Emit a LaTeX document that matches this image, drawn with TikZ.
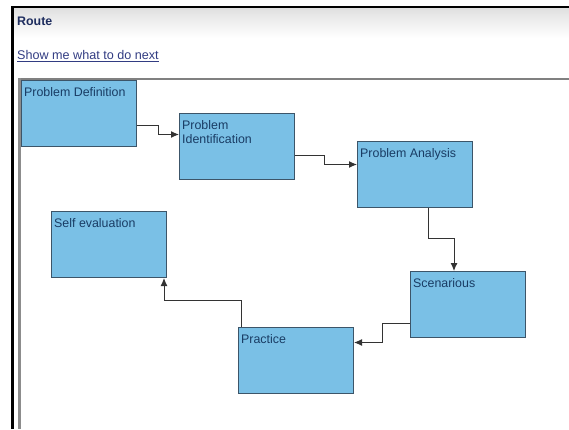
\documentclass[tikz,border=0pt]{standalone}
\usepackage{fontspec}
\setmainfont{Liberation Sans}
\usetikzlibrary{arrows.meta}
\definecolor{boxfill}{RGB}{122,192,230}
\definecolor{boxline}{RGB}{60,85,105}
\definecolor{boxtext}{RGB}{25,60,100}
\definecolor{linkblue}{RGB}{50,60,130}
\definecolor{headblue}{RGB}{30,45,95}
\tikzset{
  stepbox/.style={draw=boxline, line width=1pt, fill=boxfill, minimum width=115pt, minimum height=66pt, anchor=north west, inner sep=0pt},
  boxlabel/.style={anchor=north west, inner sep=0pt, text=boxtext, font=\fontsize{12.4}{14}\selectfont, align=left},
  conn/.style={draw=black!80, line width=1pt, -{Latex[length=8pt,width=7pt]}}
}
\begin{document}
\begin{tikzpicture}[x=1pt,y=-1pt]
\useasboundingbox (0,0) rectangle (569,429);
% header
\shade[top color=black!12, bottom color=white] (13,8) rectangle (569,38);
\draw[black, line width=2.5pt] (12.5,429) -- (12.5,7) -- (569,7);
\node[anchor=west, inner sep=0pt, text=headblue, font=\bfseries\fontsize{12.4}{14}\selectfont] (route) at (17,21) {Route};
\node[anchor=west, inner sep=0pt, text=linkblue, font=\fontsize{12.6}{14}\selectfont] (link) at (17,56) {\underline{Show me what to do next}};
% frame
\draw[black!50, line width=2pt] (18,79) -- (569,79);
\draw[black!45, line width=2.5pt] (19.5,78) -- (19.5,429);
% boxes
\node[stepbox] (pd) at (21,80) {};
\node[stepbox] (pi) at (179,113) {};
\node[stepbox] (pa) at (357,141) {};
\node[stepbox] (sc) at (410,271) {};
\node[stepbox] (pr) at (238,327) {};
\node[stepbox] (se) at (51,211) {};
% labels
\node[boxlabel] (pdl) at ([xshift=3pt,yshift=-7pt]pd.north west) {Problem Definition};
\node[boxlabel] (pil) at ([xshift=3pt,yshift=-7pt]pi.north west) {Problem\\Identification};
\node[boxlabel] (pal) at ([xshift=3pt,yshift=-7pt]pa.north west) {Problem Analysis};
\node[boxlabel] (scl) at ([xshift=3pt,yshift=-7pt]sc.north west) {Scenarious};
\node[boxlabel] (prl) at ([xshift=3pt,yshift=-7pt]pr.north west) {Practice};
\node[boxlabel] (sel) at ([xshift=3pt,yshift=-7pt]se.north west) {Self evaluation};
% connectors
\draw[conn] ([yshift=-11.5pt]pd.east) -- ++(21,0) |- ([yshift=12pt]pi.west);
\draw[conn] ([yshift=-9pt]pi.east) -- ++(29,0) |- ([yshift=10pt]pa.west);
\draw[conn] ([xshift=13.5pt]pa.south) -- ++(0,30) -| ([xshift=-14pt]sc.north);
\draw[conn] ([yshift=-19pt]sc.west) -- ++(-28,0) |- ([yshift=18pt]pr.east);
\draw[conn] ([xshift=3pt]pr.north west) -- ++(0,-27) -| ([xshift=-3pt]se.south east);
\end{tikzpicture}
\end{document}
